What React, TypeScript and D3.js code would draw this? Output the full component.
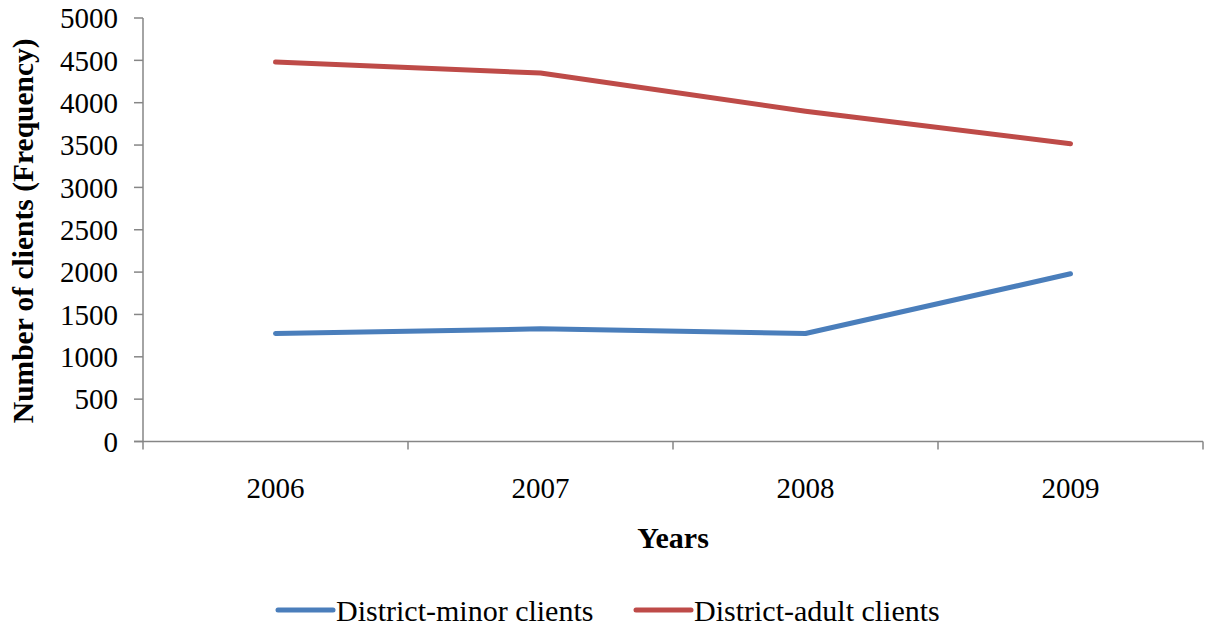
import * as d3 from "d3";

const years = ["2006", "2007", "2008", "2009"];
const minorClients = [1275, 1330, 1275, 1980];
const adultClients = [4480, 4350, 3900, 3515];
const yTicks = [0, 500, 1000, 1500, 2000, 2500, 3000, 3500, 4000, 4500, 5000];

const series = [
  { name: "District-minor clients", values: minorClients, color: "#4A7EBB" },
  { name: "District-adult clients", values: adultClients, color: "#BE4B48" },
];

const W = 1209;
const H = 630;
const LEFT = 143;
const RIGHT = 1203;
const TOP = 18;
const BOTTOM = 441.5;
const FONT = "'Liberation Serif', 'Times New Roman', serif";
const AXIS = "#868686";

const App = () => {
  const x = d3.scaleBand<string>().domain(years).range([LEFT, RIGHT]);
  const y = d3.scaleLinear().domain([0, 5000]).range([BOTTOM, TOP]);
  const cx = (yr: string) => (x(yr) ?? 0) + x.bandwidth() / 2;

  const line = d3
    .line<number>()
    .x((_, i) => cx(years[i]))
    .y((d) => y(d));

  const bounds = [...years.map((yr) => x(yr) ?? 0), RIGHT];

  return (
    <svg
      width={W}
      height={H}
      style={{ position: "absolute", left: 0, top: 0, background: "#fff" }}
      fontFamily={FONT}
    >
      {/* y axis */}
      <line x1={LEFT} x2={LEFT} y1={TOP} y2={BOTTOM} stroke={AXIS} strokeWidth={1.5} />
      {yTicks.map((t) => (
        <g key={t}>
          <line x1={LEFT - 9} x2={LEFT} y1={y(t)} y2={y(t)} stroke={AXIS} strokeWidth={1.5} />
          <text x={LEFT - 25} y={y(t)} dy="0.35em" textAnchor="end" fontSize={29} fill="#000">
            {t}
          </text>
        </g>
      ))}
      {/* x axis */}
      <line x1={LEFT - 9} x2={RIGHT} y1={BOTTOM} y2={BOTTOM} stroke={AXIS} strokeWidth={1.5} />
      {bounds.map((b, i) => (
        <line key={i} x1={b} x2={b} y1={BOTTOM} y2={BOTTOM + 8} stroke={AXIS} strokeWidth={1.5} />
      ))}
      {years.map((yr) => (
        <text key={yr} x={cx(yr)} y={498} textAnchor="middle" fontSize={29} fill="#000">
          {yr}
        </text>
      ))}

      {series.map((s) => (
        <path
          key={s.name}
          d={line(s.values) ?? ""}
          fill="none"
          stroke={s.color}
          strokeWidth={5}
          strokeLinecap="round"
          strokeLinejoin="round"
        />
      ))}

      {/* titles */}
      <text x={673} y={548} textAnchor="middle" fontSize={30} fontWeight="bold" fill="#000">
        Years
      </text>
      <text
        transform={`translate(33, ${(TOP + BOTTOM) / 2 + 1}) rotate(-90)`}
        textAnchor="middle"
        fontSize={29.5}
        fontWeight="bold"
        fill="#000"
      >
        Number of clients (Frequency)
      </text>

      {/* legend */}
      {series.map((s, i) => {
        const lx = i === 0 ? 278 : 636;
        return (
          <g key={s.name}>
            <line x1={lx} x2={lx + 55} y1={610} y2={610} stroke={s.color} strokeWidth={5} strokeLinecap="round" />
            <text x={lx + 58} y={621} fontSize={30} fill="#000">
              {s.name}
            </text>
          </g>
        );
      })}
    </svg>
  );
};

export default App;
